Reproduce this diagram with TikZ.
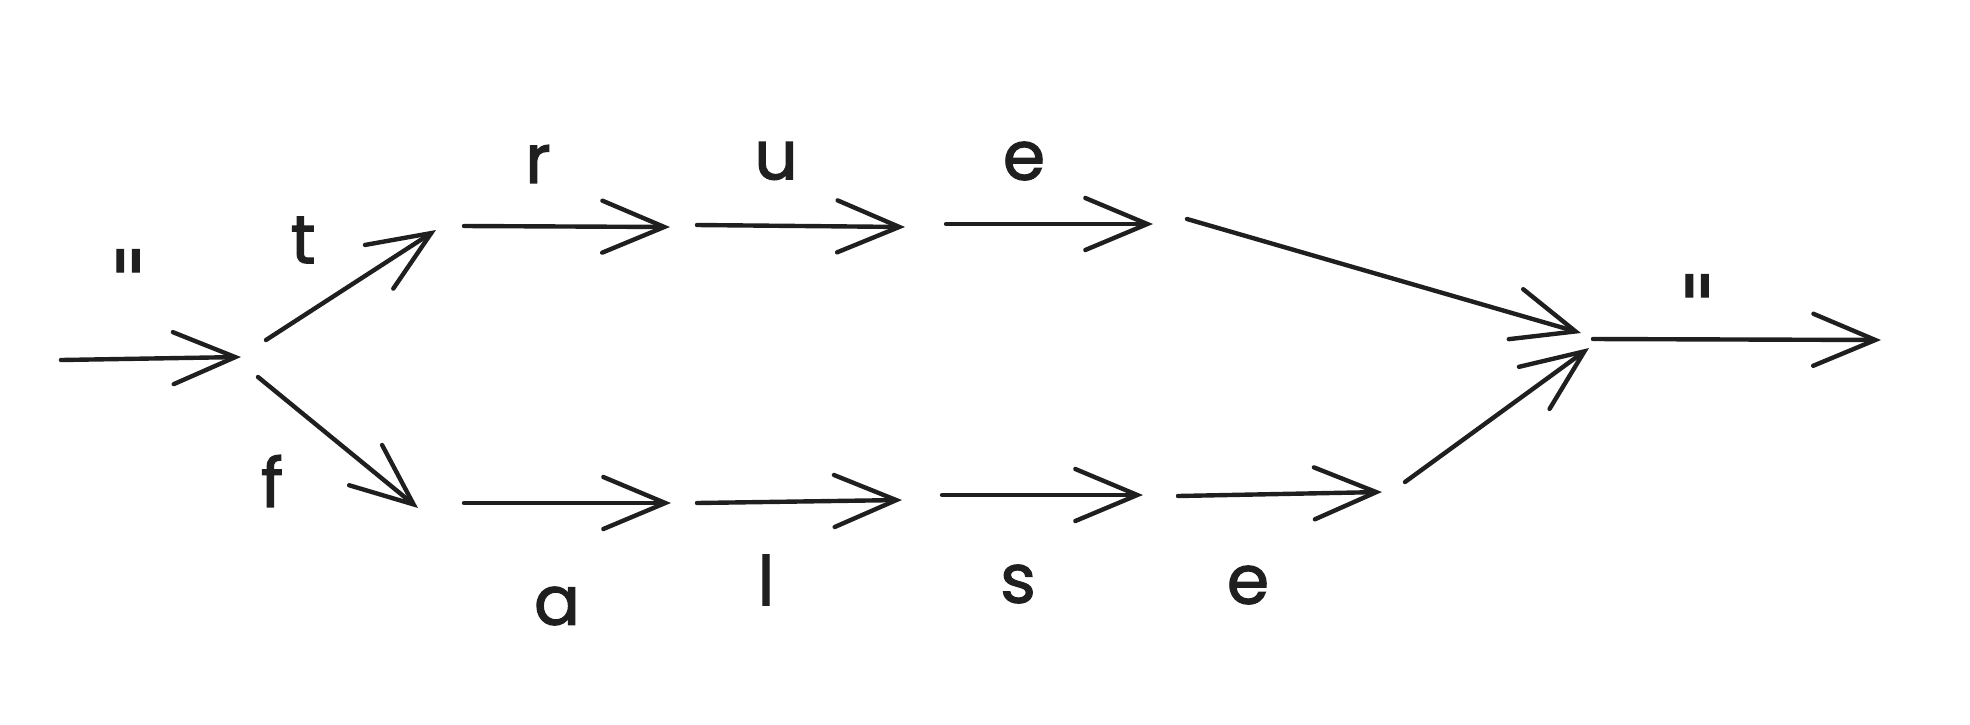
\documentclass[tikz,border=0pt]{standalone}
\usepackage{fontspec}
\setmainfont{Poppins}
\newfontfamily\handfont{Poppins}[FakeBold=1.8]
\newfontfamily\tickfont{DejaVu Sans}[FakeBold=1.2]
\usetikzlibrary{arrows.meta}

\begin{document}
\begin{tikzpicture}[
    x=1pt, y=-1pt,
    edge/.style={-{Straight Barb[length=62pt, width=52pt, line cap=round]}, line width=4.4pt, draw=black!88, line cap=round},
    letter/.style={font=\fontsize{68}{70}\selectfont\handfont, text=black!88, inner sep=0pt},
    quote/.style={font=\fontsize{84}{86}\selectfont\tickfont, text=black!88, inner sep=0pt}
]
    \useasboundingbox (0,0) rectangle (1970,724);

    % ============================================================
    % END POINTS
    % ============================================================
    \coordinate (in-a) at (61,360);    \coordinate (in-b) at (241,357);
    \coordinate (t-a) at (266,340);    \coordinate (t-b) at (436,230);
    \coordinate (f-a) at (258,377);    \coordinate (f-b) at (418,508);
    \coordinate (r-a) at (464,226);    \coordinate (r-b) at (670,227);
    \coordinate (u-a) at (697,225);    \coordinate (u-b) at (905,227);
    \coordinate (e1-a) at (946,224);   \coordinate (e1-b) at (1153,224);
    \coordinate (j1-a) at (1187,219);  \coordinate (j1-b) at (1581,333);
    \coordinate (a-a) at (464,503);    \coordinate (a-b) at (671,503);
    \coordinate (l-a) at (697,503);    \coordinate (l-b) at (902,500);
    \coordinate (s-a) at (942,495);    \coordinate (s-b) at (1143,495);
    \coordinate (e2-a) at (1178,496);  \coordinate (e2-b) at (1382,492);
    \coordinate (j2-a) at (1405,482);  \coordinate (j2-b) at (1589,348);
    \coordinate (out-a) at (1593,339); \coordinate (out-b) at (1881,340);

    % ============================================================
    % LABELS
    % ============================================================
    \node[quote] (q-in) at (128,280) {"};
    \node[letter] (lbl-t) at (303,240) {t};
    \node[letter] (lbl-f) at (272,481) {f};
    \node[letter] (lbl-r) at (538,164) {r};
    \node[letter] (lbl-u) at (776,161) {u};
    \node[letter] (lbl-e1) at (1024,161) {e};
    \node[letter] (lbl-a) at (557,606) {a};
    \node[letter] (lbl-l) at (766,580) {l};
    \node[letter] (lbl-s) at (1018,584) {s};
    \node[letter] (lbl-e2) at (1248,585) {e};
    \node[quote] (q-out) at (1697,305) {"};

    % ============================================================
    % ARROWS
    % ============================================================
    \draw[edge] (in-a) -- (in-b);
    \draw[edge] (t-a) -- (t-b);
    \draw[edge] (f-a) -- (f-b);

    % true branch
    \draw[edge] (r-a) -- (r-b);
    \draw[edge] (u-a) -- (u-b);
    \draw[edge] (e1-a) -- (e1-b);
    \draw[edge] (j1-a) -- (j1-b);

    % false branch
    \draw[edge] (a-a) -- (a-b);
    \draw[edge] (l-a) -- (l-b);
    \draw[edge] (s-a) -- (s-b);
    \draw[edge] (e2-a) -- (e2-b);
    \draw[edge] (j2-a) -- (j2-b);

    \draw[edge] (out-a) -- (out-b);

\end{tikzpicture}
\end{document}
